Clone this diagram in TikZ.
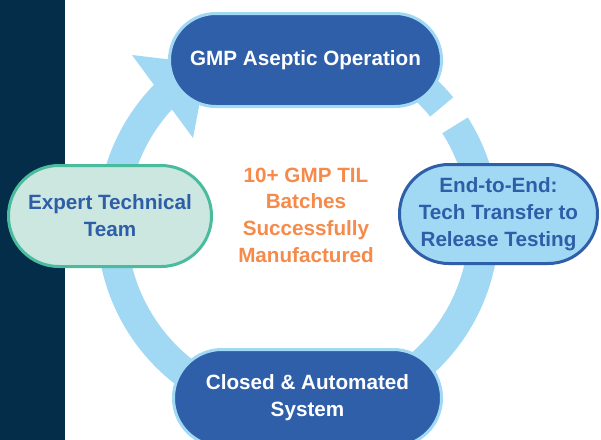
\documentclass[tikz,border=0pt]{standalone}
\usepackage{fontspec}
\setmainfont{Liberation Sans}
\usepackage{tikz}
\tikzset{every picture/.style={line width=0.75pt}}

\definecolor{stripnavy}{RGB}{3,45,72}
\definecolor{ringblue}{RGB}{161,217,244}
\definecolor{nodeblue}{RGB}{47,95,169}
\definecolor{textblue}{RGB}{46,94,167}
\definecolor{mintfill}{RGB}{204,230,224}
\definecolor{mintline}{RGB}{75,187,158}
\definecolor{statorange}{RGB}{246,138,75}

\tikzset{
  phase/.style={align=center, inner sep=0pt, line width=2.25pt,
    font=\fontsize{15.5}{20.25}\selectfont\bfseries},
  darkphase/.style={phase, fill=nodeblue, draw=ringblue, text=white},
  ring/.style={draw=ringblue, line width=22.5pt},
}

\begin{document}
\begin{tikzpicture}[x=0.75pt,y=0.75pt,yscale=-1,xscale=1]
		\useasboundingbox (0,0) rectangle (601,440);
		\clip (0,0) rectangle (601,440);
		\fill[white] (0,0) rectangle (601,440);
		
		%Shape: Strip
		\fill[stripnavy] (0,0) rectangle (65,440);
		
		%Curve Lines: Ring
		\coordinate (ctr) at (298,225);
		\draw[ring] (ctr) ++(-32.4:186) arc[start angle=-32.4, end angle=228, radius=186];
		\draw[ring] (ctr) ++(-100:186) arc[start angle=-100, end angle=-39.4, radius=186];
		%Shape: Arrow head
		\fill[ringblue] (132,55) -- (207,64) -- (193,138) -- cycle;
		
		% Phase Nodes
		\node[darkphase, minimum width=204pt, minimum height=69.75pt, rounded corners=34.8pt] (gmp) at (305.5,60) {GMP Aseptic Operation};
		\node[phase, fill=ringblue, draw=nodeblue, text=textblue, minimum width=148.5pt, minimum height=74.25pt, rounded corners=37pt] (transfer) at (498.5,214) {End-to-End:\\Tech Transfer to\\Release Testing};
		\node[darkphase, minimum width=201pt, minimum height=72.75pt, rounded corners=36.3pt] (closed) at (307.5,398) {Closed \& Automated\\System};
		\node[phase, fill=mintfill, draw=mintline, text=textblue, minimum width=152.25pt, minimum height=75.75pt, rounded corners=37.8pt] (team) at (110,216) {Expert Technical\\Team};
		
		% Text Node
		\node[phase, text=statorange, font=\fontsize{15.5}{20}\selectfont\bfseries] (batches) at (306,215) {10+ GMP TIL\\Batches\\Successfully\\Manufactured};
		
\end{tikzpicture}
\end{document}
